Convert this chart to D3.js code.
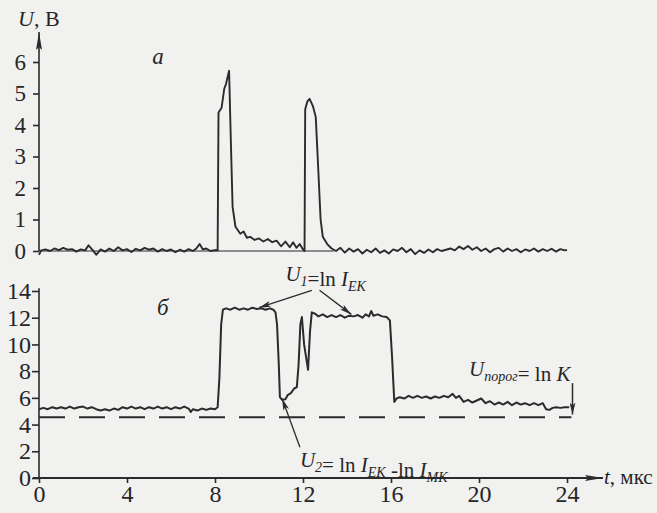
<!DOCTYPE html>
<html><head><meta charset="utf-8">
<script src="https://cdn.jsdelivr.net/npm/d3@7"></script>
<style>
html,body{margin:0;padding:0;background:#f1f1f0;}
svg{display:block;}
text{font-family:"Liberation Serif","DejaVu Serif",serif;fill:#262626;}
</style></head>
<body>
<svg id="chart" width="657" height="513"></svg>
<script>
// ---- DATA ----
// panel "а": time (мкс) and voltage (В)
const timeA = [0,0.1,0.3,0.5,0.7,0.9,1.1,1.3,1.5,1.7,1.9,2.1,2.25,2.45,2.6,2.8,3.0,3.2,3.4,3.6,3.8,4.0,4.2,4.4,4.6,4.8,5.0,5.2,5.4,5.6,5.8,6.0,6.2,6.4,6.6,6.8,7.0,7.15,7.3,7.45,7.6,7.8,8.0,8.12,
  8.16,8.3,8.42,8.5,8.64,8.72,8.8,8.93,9.15,9.3,9.45,9.6,9.8,10.0,10.2,10.4,10.6,10.8,11.0,11.2,11.4,11.55,11.7,11.85,12.0,12.07,
  12.1,12.2,12.3,12.45,12.58,12.7,12.8,12.9,13.1,13.3,13.5,
  13.7,13.9,14.1,14.3,14.5,14.7,14.9,15.1,15.3,15.5,15.7,15.9,16.1,16.3,16.5,16.7,16.9,17.1,17.3,17.5,17.7,17.9,18.1,18.3,18.5,18.7,18.9,19.1,19.3,19.5,19.7,19.9,20.1,20.3,20.5,20.7,20.9,21.1,21.3,21.5,21.7,21.9,22.1,22.3,22.5,22.7,22.9,23.1,23.3,23.5,23.7,23.9,24.0];
const voltA = [-0.12,0.02,0.05,0.0,0.08,0.03,0.1,0.04,0.06,-0.02,0.05,0.02,0.18,0.02,-0.12,0.05,-0.02,0.08,0.0,0.12,0.02,0.06,-0.03,0.07,0.02,0.1,0.04,0.08,-0.02,0.06,0.0,0.05,-0.04,0.04,-0.02,0.06,0.0,0.08,0.22,0.05,0.08,0.0,0.03,0.02,
  4.4,4.55,5.15,5.3,5.72,3.5,1.4,0.77,0.55,0.62,0.42,0.45,0.35,0.4,0.3,0.38,0.28,0.33,0.15,0.3,0.12,0.28,0.1,0.22,0.05,0.0,
  4.5,4.75,4.83,4.6,4.25,2.5,1.0,0.45,0.22,0.08,0.0,
  0.1,-0.05,0.08,-0.02,0.06,-0.08,0.04,-0.04,0.08,-0.06,0.02,-0.08,0.05,0.0,0.1,-0.04,0.06,-0.1,0.02,-0.06,0.05,-0.04,0.06,0.0,0.04,0.08,0.02,0.14,0.06,0.16,0.04,0.12,0.0,0.08,-0.04,0.06,0.1,-0.02,0.08,0.0,0.06,-0.04,0.05,0.0,0.08,-0.02,0.06,0.0,0.07,-0.02,0.06,0.02,0.03];

// panel "б": time (мкс) and voltage (В)
const timeB = [0,0.2,0.4,0.6,0.8,1.0,1.2,1.4,1.6,1.8,2.0,2.2,2.4,2.6,2.8,3.0,3.2,3.4,3.6,3.8,4.0,4.2,4.4,4.6,4.8,5.0,5.2,5.4,5.6,5.8,6.0,6.2,6.4,6.6,6.8,6.9,7.0,7.2,7.4,7.6,7.8,8.0,8.12,
  8.2,8.28,8.36,8.5,8.7,8.9,9.1,9.3,9.5,9.7,9.9,10.1,10.3,10.5,10.65,10.75,10.82,10.9,10.95,11.05,11.2,11.3,11.45,11.6,11.72,11.8,11.88,11.95,12.05,12.23,12.32,12.4,12.55,12.7,12.9,13.1,13.3,13.5,13.7,13.9,14.1,14.3,14.5,14.7,14.85,15.0,15.1,15.2,15.4,15.6,15.8,15.95,16.05,16.15,
  16.25,16.4,16.6,16.8,17.0,17.2,17.4,17.6,17.8,18.0,18.2,18.4,18.6,18.8,18.95,19.1,19.3,19.5,19.7,19.9,20.1,20.3,20.5,20.7,20.9,21.1,21.3,21.5,21.7,21.9,22.1,22.3,22.5,22.7,22.9,23.05,23.2,23.35,23.5,23.7,23.9,24.1];
const voltB = [5.15,5.25,5.15,5.3,5.2,5.3,5.2,5.35,5.2,5.3,5.35,5.2,5.3,5.15,5.05,5.15,5.05,5.2,5.1,5.3,5.2,5.35,5.2,5.3,5.15,5.3,5.2,5.35,5.2,5.3,5.15,5.3,5.2,5.35,5.2,4.95,5.15,5.05,5.2,5.1,5.2,5.15,5.3,
  7.5,11.5,12.6,12.7,12.6,12.75,12.6,12.7,12.6,12.75,12.65,12.7,12.6,12.7,12.6,12.4,11.5,8.5,6.06,5.85,5.9,6.2,6.35,6.7,6.8,8.5,11.5,12.05,10.0,8.1,11.0,12.4,12.3,12.1,12.25,12.05,12.2,12.05,12.2,12.0,12.15,12.1,12.2,12.0,12.25,12.1,12.5,12.15,12.25,12.1,12.05,11.8,9.0,5.7,
  5.95,6.05,5.95,6.15,6.0,6.15,6.0,6.1,5.95,6.1,6.0,6.15,6.05,6.3,6.0,6.15,5.7,5.85,5.65,5.8,5.95,5.6,5.75,5.5,5.65,5.5,5.7,5.45,5.65,5.5,5.6,5.45,5.6,5.45,5.6,5.15,5.1,5.25,5.3,5.25,5.3,5.3];

const thresholdU = 4.55;
const thresholdEnd = 24.2;
const ticksTopY = [0,1,2,3,4,5,6];
const ticksBotY = [0,2,4,6,8,10,12,14];
const ticksX = [0,4,8,12,16,20,24];

// ---- SCALES ----
const svg = d3.select("#chart");
const x = d3.scaleLinear().domain([0,24]).range([39,567]);
const yA = d3.scaleLinear().domain([0,6]).range([251,62]);
const yB = d3.scaleLinear().domain([0,14]).range([478,291]);
const ink = "#2b2b2b";

// arrow markers
const defs = svg.append("defs");
defs.append("marker").attr("id","ah").attr("viewBox","0 0 12 6").attr("refX",12).attr("refY",3)
  .attr("markerWidth",12).attr("markerHeight",6).attr("markerUnits","userSpaceOnUse").attr("orient","auto")
  .append("path").attr("d","M0,0 L12,3 L0,6 L3,3 Z").attr("fill",ink);
defs.append("marker").attr("id","axh").attr("viewBox","0 0 18 6").attr("refX",18).attr("refY",3)
  .attr("markerWidth",18).attr("markerHeight",6).attr("markerUnits","userSpaceOnUse").attr("orient","auto")
  .append("path").attr("d","M0,0 L18,3 L0,6 L3,3 Z").attr("fill",ink);

// ---- PANEL а ----
svg.append("line").attr("x1",x(0)).attr("x2",x(0)).attr("y1",yA(0)).attr("y2",32)
  .attr("stroke",ink).attr("stroke-width",1.6).attr("marker-end","url(#axh)");
const axA = d3.axisLeft(yA).tickValues(ticksTopY).tickSize(6).tickPadding(7).tickFormat(d3.format("d"));
const gA = svg.append("g").attr("transform",`translate(${x(0)},0)`).call(axA);
gA.select(".domain").remove();
gA.selectAll(".tick line").attr("stroke",ink).attr("stroke-width",1.6);
gA.selectAll(".tick text").attr("font-size",23).attr("fill",ink).style("font-family","Liberation Serif");
svg.append("line").attr("x1",x(0)).attr("x2",x(13.4)).attr("y1",yA(0)).attr("y2",yA(0))
  .attr("stroke",ink).attr("stroke-width",1.2);
const lineA = d3.line().x((d,i)=>x(timeA[i])).y((d,i)=>yA(voltA[i]));
svg.append("path").attr("d",lineA(voltA)).attr("fill","none").attr("stroke",ink).attr("stroke-width",1.9).attr("stroke-linejoin","round");

const tU = svg.append("text").attr("x",18).attr("y",26).attr("font-size",22);
tU.append("tspan").attr("font-style","italic").text("U");
tU.append("tspan").text(", В");
svg.append("text").attr("x",x(5.15)).attr("y",yA(5.95)).attr("font-size",23).attr("font-style","italic").text("а");

// ---- PANEL б ----
svg.append("line").attr("x1",x(0)).attr("x2",x(0)).attr("y1",yB(0)).attr("y2",yB(14.2))
  .attr("stroke",ink).attr("stroke-width",1.6);
const axB = d3.axisLeft(yB).tickValues(ticksBotY).tickSize(7).tickPadding(1).tickFormat(d3.format("d"));
const gB = svg.append("g").attr("transform",`translate(${x(0)},0)`).call(axB);
gB.select(".domain").remove();
gB.selectAll(".tick line").attr("stroke",ink).attr("stroke-width",1.6);
gB.selectAll(".tick text").attr("font-size",24).attr("fill",ink).style("font-family","Liberation Serif");

svg.append("line").attr("x1",x(0)-6).attr("x2",603).attr("y1",yB(0)).attr("y2",yB(0))
  .attr("stroke",ink).attr("stroke-width",2).attr("marker-end","url(#axh)");
const axX = d3.axisBottom(x).tickValues(ticksX).tickSize(5).tickPadding(2).tickFormat(d3.format("d"));
const gX = svg.append("g").attr("transform",`translate(0,${yB(0)})`).call(axX);
gX.select(".domain").remove();
gX.selectAll(".tick line").attr("stroke",ink).attr("stroke-width",1.6);
gX.selectAll(".tick text").attr("font-size",24).attr("fill",ink).style("font-family","Liberation Serif");

const tT = svg.append("text").attr("x",604).attr("y",yB(0)+6).attr("font-size",21);
tT.append("tspan").attr("font-style","italic").text("t");
tT.append("tspan").text(", мкс");

svg.append("line").attr("x1",x(0)).attr("x2",x(thresholdEnd)).attr("y1",yB(thresholdU)).attr("y2",yB(thresholdU))
  .attr("stroke",ink).attr("stroke-width",1.8).attr("stroke-dasharray","26,14");

const lineB = d3.line().x((d,i)=>x(timeB[i])).y((d,i)=>yB(voltB[i]));
svg.append("path").attr("d",lineB(voltB)).attr("fill","none").attr("stroke",ink).attr("stroke-width",2).attr("stroke-linejoin","round");

svg.append("text").attr("x",x(5.36)).attr("y",yB(12.2)).attr("font-size",23).attr("font-style","italic").text("б");

// annotations
function sub(t, s){ t.append("tspan").attr("font-size",14).attr("dy",5).attr("font-style","italic").text(s);
  t.append("tspan").attr("dy",-5).text(""); }

const l1 = svg.append("text").attr("x",x(11.2)).attr("y",yB(14.75)).attr("font-size",21);
l1.append("tspan").attr("font-style","italic").text("U");
sub(l1,"1");
l1.append("tspan").text("=ln ");
l1.append("tspan").attr("font-style","italic").text("I");
sub(l1,"EK");

svg.append("line").attr("x1",x(12.4)).attr("y1",yB(14.05)).attr("x2",x(10.0)).attr("y2",yB(12.75))
  .attr("stroke",ink).attr("stroke-width",1.3).attr("marker-end","url(#ah)");
svg.append("line").attr("x1",x(12.75)).attr("y1",yB(14.05)).attr("x2",x(14.2)).attr("y2",yB(12.25))
  .attr("stroke",ink).attr("stroke-width",1.3).attr("marker-end","url(#ah)");

const l2 = svg.append("text").attr("x",x(11.86)).attr("y",yB(0.8)).attr("font-size",21);
l2.append("tspan").attr("font-style","italic").text("U");
sub(l2,"2");
l2.append("tspan").text("= ln ");
l2.append("tspan").attr("font-style","italic").text("I");
sub(l2,"EK");
l2.append("tspan").text(" -ln ");
l2.append("tspan").attr("font-style","italic").text("I");
sub(l2,"MK");
svg.append("line").attr("x1",x(11.86)).attr("y1",yB(2.3)).attr("x2",x(11.05)).attr("y2",yB(5.95))
  .attr("stroke",ink).attr("stroke-width",1.3).attr("marker-end","url(#ah)");

const l3 = svg.append("text").attr("x",x(19.55)).attr("y",yB(7.65)).attr("font-size",21);
l3.append("tspan").attr("font-style","italic").text("U");
sub(l3,"порог");
l3.append("tspan").text("= ln ");
l3.append("tspan").attr("font-style","italic").text("K");
svg.append("line").attr("x1",x(24.25)).attr("y1",yB(7.1)).attr("x2",x(24.25)).attr("y2",yB(4.75))
  .attr("stroke",ink).attr("stroke-width",1.5).attr("marker-end","url(#ah)");
</script>
</body></html>
